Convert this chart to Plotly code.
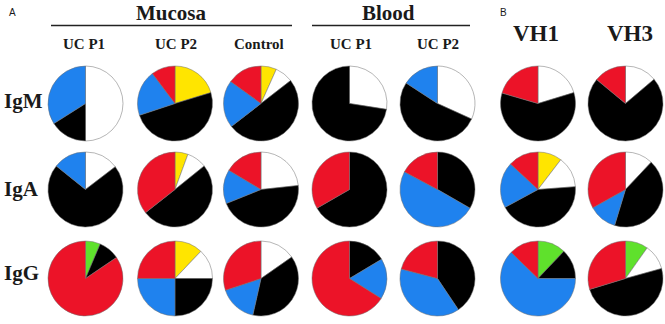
import plotly.graph_objects as go

# ---- data (percent of sequences per colour category, clockwise from 12 o'clock) ----
columns = ["UC P1", "UC P2", "Control", "UC P1", "UC P2", "VH1", "VH3"]
rows = ["IgM", "IgA", "IgG"]

category_colors = {
    "white": "#ffffff",
    "black": "#000000",
    "blue": "#1f82ee",
    "red": "#ec1328",
    "yellow": "#ffe500",
    "green": "#5fe12c",
}

igm_labels = [
    ["white", "black", "blue"],
    ["yellow", "black", "blue", "red"],
    ["yellow", "white", "black", "blue", "red"],
    ["white", "black"],
    ["white", "black", "blue"],
    ["white", "black", "red"],
    ["white", "black", "red"],
]
igm_values = [
    [50, 16, 34],
    [20.3, 49.6, 19.8, 10.3],
    [6.7, 7.8, 50, 20.5, 15],
    [27.5, 72.5],
    [31.8, 52.4, 15.8],
    [20.3, 59.2, 20.5],
    [13.8, 72.2, 14],
]

iga_labels = [
    ["white", "black", "blue"],
    ["yellow", "white", "black", "red"],
    ["white", "black", "blue", "red"],
    ["black", "red"],
    ["black", "blue", "red"],
    ["yellow", "white", "black", "blue", "red"],
    ["white", "black", "blue", "red"],
]
iga_values = [
    [14.6, 71.2, 14.2],
    [5.6, 8.6, 50.2, 35.6],
    [23.3, 45.6, 14.7, 16.4],
    [66.7, 33.3],
    [33.3, 49.5, 17.2],
    [10.4, 13.4, 43.3, 19.8, 13.1],
    [12, 42.7, 12.2, 33.1],
]

igg_labels = [
    ["green", "black", "red"],
    ["yellow", "white", "black", "blue", "red"],
    ["white", "black", "blue", "red"],
    ["black", "blue", "red"],
    ["black", "blue", "red"],
    ["green", "black", "blue", "red"],
    ["green", "white", "black", "red"],
]
igg_values = [
    [6.4, 9.1, 84.5],
    [12.1, 12.9, 25, 25, 25],
    [15.3, 38.2, 16.4, 30.1],
    [16.4, 17.6, 66],
    [40.6, 38.5, 20.9],
    [12.1, 12.9, 62.3, 12.7],
    [9.8, 10.9, 49.6, 29.7],
]

# ---- layout geometry (pixels) ----
W, H = 665, 324
col_cx = [85.5, 175, 261, 349.5, 437.5, 538, 625.5]
row_cy = [103.5, 189.5, 278.5]
R = 37.5

fig = go.Figure()

all_labels = [igm_labels, iga_labels, igg_labels]
all_values = [igm_values, iga_values, igg_values]

for ri, (labs_row, vals_row) in enumerate(zip(all_labels, all_values)):
    for ci, (labs, vals) in enumerate(zip(labs_row, vals_row)):
        cx, cy = col_cx[ci], row_cy[ri]
        fig.add_trace(go.Pie(
            labels=[f"{rows[ri]} {columns[ci]} {l}" for l in labs],
            values=vals,
            marker=dict(colors=[category_colors[l] for l in labs],
                        line=dict(color="rgba(110,110,110,0.85)", width=0.6)),
            sort=False,
            direction="clockwise",
            rotation=0,
            textinfo="none",
            hoverinfo="skip",
            showlegend=False,
            domain=dict(x=[(cx - R) / W, (cx + R) / W],
                        y=[1 - (cy + R) / H, 1 - (cy - R) / H]),
        ))

serif = "Liberation Serif, Times New Roman, serif"
sans = "Liberation Sans, Arial, sans-serif"

def ann(text, x, y, size, family=serif, bold=True, xanchor="center"):
    fig.add_annotation(
        text=f"<b>{text}</b>" if bold else text,
        x=x / W, y=1 - y / H, xref="paper", yref="paper",
        xanchor=xanchor, yanchor="middle", showarrow=False,
        font=dict(family=family, size=size, color="#1a1a1a"),
    )

ann("A", 12, 13, 10, family=sans, bold=False)
ann("B", 503, 13, 10, family=sans, bold=False)
ann("Mucosa", 171, 13, 21)
ann("Blood", 388, 13, 21)
ann("VH1", 536, 33, 23)
ann("VH3", 630, 33, 23)

col_label_x = [84, 176, 259, 351, 437.5]
for lab, x in zip(columns[:5], col_label_x):
    ann(lab, x, 44, 15)

row_label_y = [101, 189, 273]
for lab, y in zip(rows, row_label_y):
    ann(lab, 2, y, 21, xanchor="left")

for x0, x1 in [(51, 292), (312, 470)]:
    fig.add_shape(type="line", xref="paper", yref="paper",
                  x0=x0 / W, x1=x1 / W, y0=1 - 25.5 / H, y1=1 - 25.5 / H,
                  line=dict(color="#222", width=1.6))

fig.update_layout(
    width=W, height=H,
    margin=dict(l=0, r=0, t=0, b=0),
    paper_bgcolor="white", plot_bgcolor="white",
)

fig.write_html(
    "out.html",
    config={"displayModeBar": False},
    post_script="document.body.style.margin='0px';document.body.style.overflow='hidden';",
)
